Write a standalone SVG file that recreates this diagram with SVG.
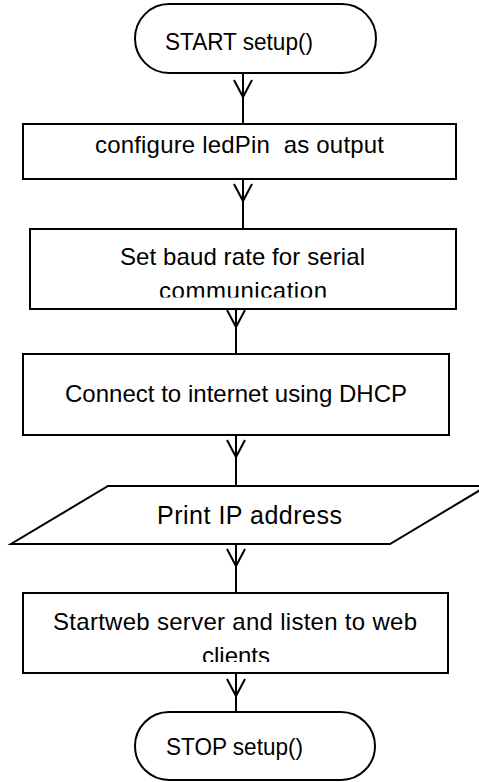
<svg xmlns="http://www.w3.org/2000/svg" xmlns:xlink="http://www.w3.org/1999/xlink" width="479" height="782" viewBox="0 0 479 782">
<style>
.shape{fill:#fff;stroke:#000;stroke-width:2}
.conn{fill:none;stroke:#000;stroke-width:2}
.lbl{font-family:"Liberation Sans",Arial,sans-serif;font-size:24px;fill:#000}
</style>
<defs>
<path id="v" d="M-9,0 L0,17 L9,0" fill="none" stroke="#000" stroke-width="2"/>
<clipPath id="clip2"><rect x="30" y="229" width="426" height="68.5"/></clipPath>
<clipPath id="clip5"><rect x="23" y="593" width="425" height="69"/></clipPath>
</defs>
<rect width="479" height="782" fill="#fff"/>
<g id="connectors">
<path class="conn" d="M243,74 V124"/><use xlink:href="#v" x="243" y="80"/>
<path class="conn" d="M243,179 V229"/><use xlink:href="#v" x="243" y="184"/>
<path class="conn" d="M236,309 V354"/><use xlink:href="#v" x="236" y="310"/>
<path class="conn" d="M236,435 V486"/><use xlink:href="#v" x="236" y="440"/>
<path class="conn" d="M236,544 V593"/><use xlink:href="#v" x="236" y="549"/>
<path class="conn" d="M236,673 V712"/><use xlink:href="#v" x="236" y="679"/>
</g>
<g id="start">
<rect class="shape" x="135" y="4" width="241" height="69" rx="34" ry="34.5"/>
<text class="lbl" x="165" y="50" textLength="148" lengthAdjust="spacingAndGlyphs">START setup()</text>
</g>
<g id="configure">
<rect class="shape" x="23" y="124" width="433" height="55"/>
<text class="lbl" x="95" y="153" textLength="289" xml:space="preserve">configure ledPin  as output</text>
</g>
<g id="baud">
<rect class="shape" x="30" y="229" width="426" height="80"/>
<g clip-path="url(#clip2)">
<text class="lbl" x="120" y="265" textLength="245">Set baud rate for serial</text>
<text class="lbl" x="159" y="299" textLength="168">communication</text>
</g>
</g>
<g id="connect">
<rect class="shape" x="23" y="354" width="426" height="81"/>
<text class="lbl" x="65" y="402" textLength="342">Connect to internet using DHCP</text>
</g>
<g id="print">
<polygon class="shape" points="108,486 487,486 390,544 11,544"/>
<text class="lbl" x="157" y="524" textLength="185" style="font-size:25px">Print IP address</text>
</g>
<g id="webserver">
<rect class="shape" x="23" y="593" width="425" height="80"/>
<g clip-path="url(#clip5)">
<text class="lbl" x="53" y="630" textLength="364">Startweb server and listen to web</text>
<text class="lbl" x="202" y="664" textLength="68">clients</text>
</g>
</g>
<g id="stop">
<rect class="shape" x="135" y="712" width="240" height="68" rx="34" ry="34"/>
<text class="lbl" x="166" y="755" textLength="137" lengthAdjust="spacingAndGlyphs">STOP setup()</text>
</g>
</svg>
